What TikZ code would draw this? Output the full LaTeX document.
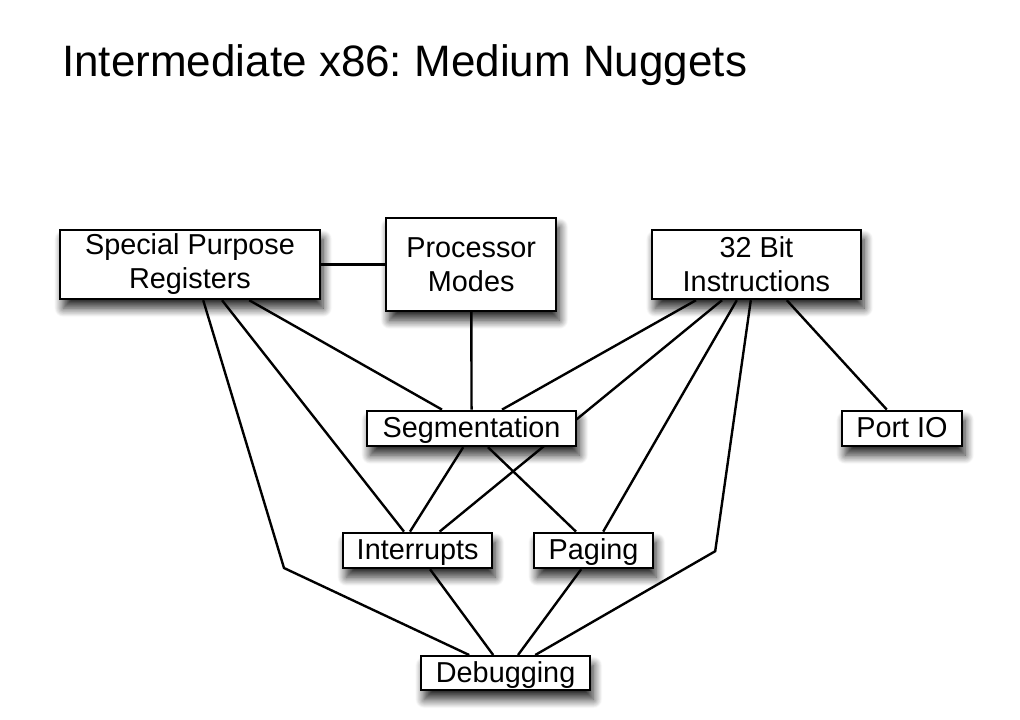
\documentclass[tikz,border=0pt]{standalone}
\usepackage{fontspec}
\setmainfont{Liberation Sans}
\frenchspacing
\usepackage{tikz}
\usetikzlibrary{calc,backgrounds,shadows.blur}
\definecolor{ink}{HTML}{000000}

\begin{document}
\begin{tikzpicture}[
  topic/.style={draw=ink, fill=white, align=center, inner sep=1pt, line width=1.7pt,
    font=\fontsize{20.5pt}{24.2pt}\selectfont,
    blur shadow={shadow xshift=0.08cm, shadow yshift=-0.23cm, shadow blur radius=0.22cm, shadow opacity=85, shadow blur steps=14}},
  single/.style={text height=13pt, text depth=0.5pt},
  link/.style={draw=ink, line width=1.7pt},
]
\useasboundingbox (0,0) rectangle (25.5,-17.975);
\node[anchor=base west, inner sep=0pt, font=\fontsize{31.3pt}{36pt}\selectfont] (title) at (1.55,-1.9) {Intermediate x86: Medium Nuggets};
\node[topic, minimum width=6.5cm, minimum height=1.73cm] (spr) at (4.75,-6.61) {Special Purpose\\Registers};
\node[topic, minimum width=4.25cm, minimum height=2.33cm] (pm) at (11.78,-6.61) {Processor\\Modes};
\node[topic, minimum width=5.23cm, minimum height=1.73cm] (bit) at (18.91,-6.61) {32 Bit\\Instructions};
\node[topic, single, minimum width=5.23cm, minimum height=0.88cm] (seg) at (11.79,-10.71) {Segmentation};
\node[topic, single, minimum width=3cm, minimum height=0.88cm] (pio) at (22.55,-10.71) {Port IO};
\node[topic, single, minimum width=3.73cm, minimum height=0.88cm] (irq) at (10.44,-13.76) {Interrupts};
\node[topic, single, minimum width=2.98cm, minimum height=0.88cm] (pag) at (14.84,-13.76) {Paging};
\node[topic, single, minimum width=4.23cm, minimum height=0.85cm] (dbg) at (12.64,-16.83) {Debugging};
\coordinate (bendl) at (7.1,-14.2);
\coordinate (bendr) at (17.88,-13.78);
\begin{scope}[on background layer]
\draw[link] (spr) -- (pm);
\draw[link] (pm) -- (seg);
\draw[link] ($(spr.south)+(1.48,0)$) -- ($(seg.north)+(-0.74,0)$);
\draw[link] ($(spr.south)+(0.8,0)$) -- ($(irq.north)+(-0.34,0)$);
\draw[link] ($(spr.south)+(0.33,0)$) -- (bendl) -- ($(dbg.north)+(-0.91,0)$);
\draw[link] ($(bit.south)+(-1.51,0)$) -- ($(seg.north)+(0.76,0)$);
\draw[link] ($(bit.south)+(-0.86,0)$) -- ($(irq.north)+(0.55,0)$);
\draw[link] ($(bit.south)+(-0.49,0)$) -- ($(pag.north)+(0.24,0)$);
\draw[link] ($(bit.south)+(-0.14,0)$) -- (bendr) -- ($(dbg.north)+(0.74,0)$);
\draw[link] ($(bit.south)+(0.76,0)$) -- ($(pio.north)+(-0.38,0)$);
\draw[link] ($(seg.south)+(-0.21,0)$) -- ($(irq.north)+(-0.19,0)$);
\draw[link] ($(seg.south)+(0.41,0)$) -- ($(pag.north)+(-0.44,0)$);
\draw[link] ($(irq.south)+(0.31,0)$) -- ($(dbg.north)+(-0.31,0)$);
\draw[link] ($(pag.south)+(-0.31,0)$) -- ($(dbg.north)+(0.31,0)$);
\end{scope}
\end{tikzpicture}
\end{document}
